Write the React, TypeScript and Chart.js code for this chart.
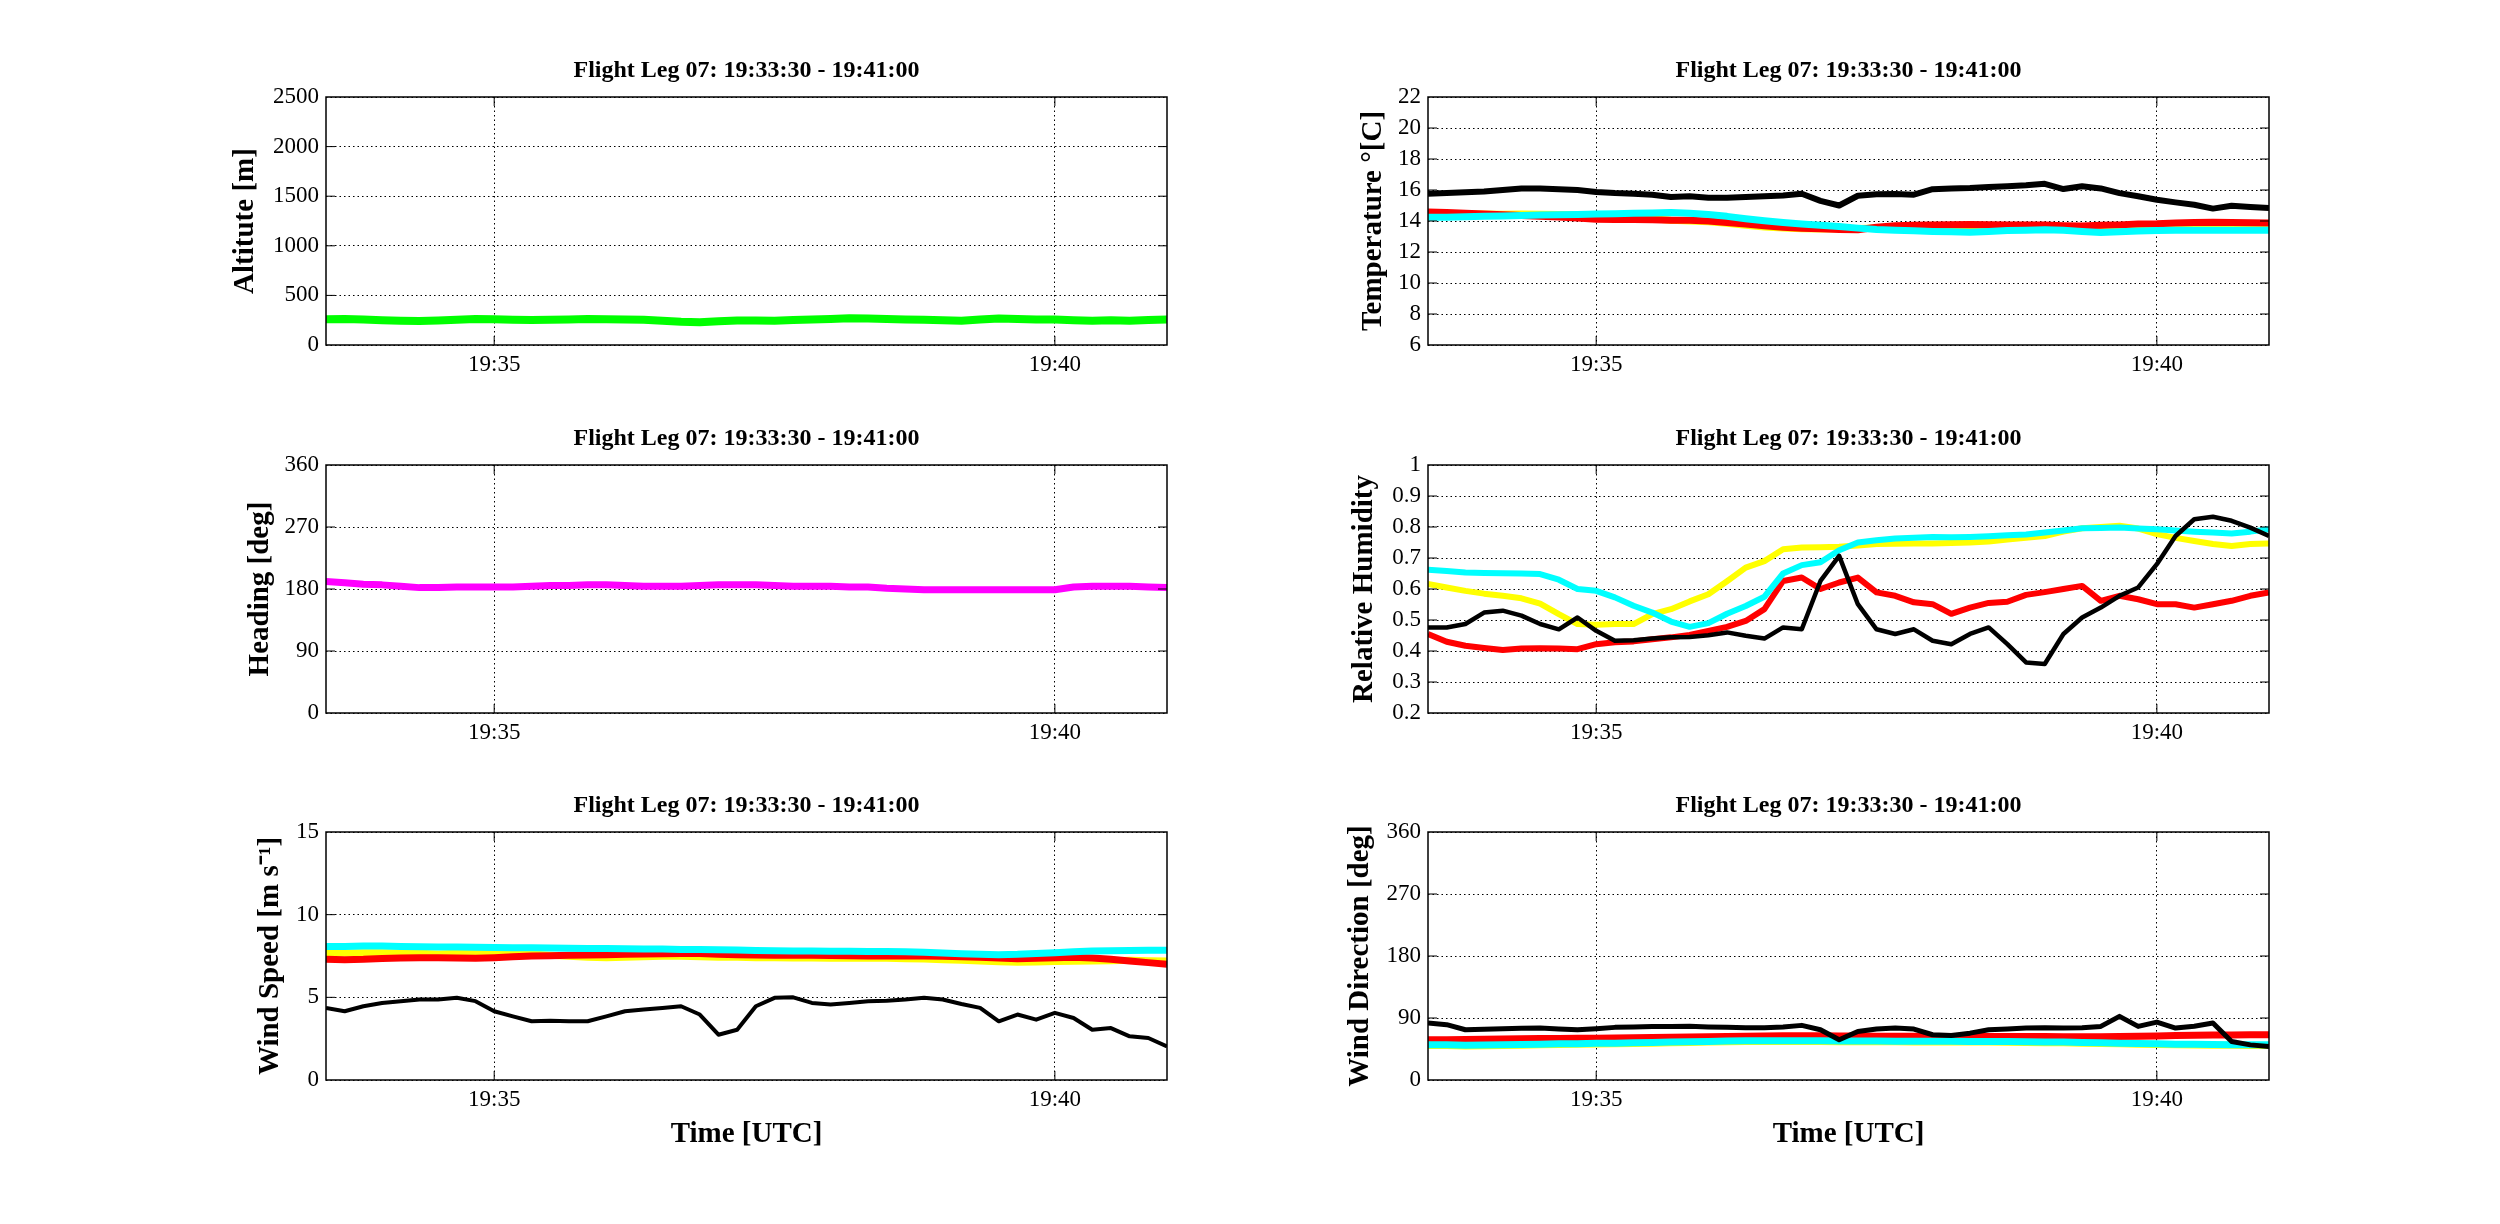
import { useEffect, useRef } from "react";
import Chart from "chart.js/auto";

const FONT = "'Liberation Serif', 'Times New Roman', serif";
const TITLE = "Flight Leg 07: 19:33:30 - 19:41:00";

// seconds after 19:33:30
const TIME_S = [
  0, 10, 20, 30, 40, 50, 60, 70, 80, 90, 100, 110, 120, 130, 140, 150, 160, 170, 180, 190, 200, 210, 220,
  230, 240, 250, 260, 270, 280, 290, 300, 310, 320, 330, 340, 350, 360, 370, 380, 390, 400, 410, 420, 430,
  440, 450,
];
const TIME_TICKS = [90, 390];
const TIME_TICK_LABELS = ["19:35", "19:40"];

const ALTITUDE = [
  260, 262, 258, 250, 245, 242, 248, 255, 262, 260, 255, 252, 254, 258, 262, 260, 258, 255, 245, 235, 230,
  240, 248, 246, 245, 252, 258, 262, 270, 268, 262, 258, 255, 250, 245, 258, 268, 262, 258, 256, 250, 245,
  250, 245, 252, 258,
];
const HEADING = [
  191, 189, 187, 186, 184, 182, 182, 183, 183, 183, 183, 184, 185, 185, 186, 186, 185, 184, 184, 184, 185,
  186, 186, 186, 185, 184, 184, 184, 183, 183, 181, 180, 179, 179, 179, 179, 179, 179, 179, 179, 183, 184,
  184, 184, 183, 182,
];

const TEMP_BLACK = [
  15.76, 15.8, 15.85, 15.9, 16.0, 16.1, 16.1, 16.05, 16.0, 15.87, 15.8, 15.76, 15.7, 15.55, 15.6, 15.5, 15.5,
  15.55, 15.6, 15.65, 15.76, 15.3, 15.0, 15.63, 15.72, 15.74, 15.7, 16.05, 16.1, 16.13, 16.2, 16.24, 16.3,
  16.4, 16.06, 16.24, 16.1, 15.8, 15.6, 15.37, 15.2, 15.05, 14.8, 14.98, 14.9, 14.84,
];
const TEMP_RED = [
  14.58, 14.55, 14.5, 14.45, 14.4, 14.35, 14.3, 14.25, 14.2, 14.12, 14.1, 14.1, 14.08, 14.05, 14.05, 14.0,
  13.9, 13.8, 13.7, 13.6, 13.54, 13.5, 13.45, 13.43, 13.6, 13.7, 13.72, 13.74, 13.76, 13.78, 13.76, 13.75,
  13.75, 13.74, 13.7, 13.68, 13.72, 13.75, 13.8, 13.82, 13.87, 13.9, 13.92, 13.9, 13.88, 13.87,
];
const TEMP_YELLOW = [
  14.5, 14.48, 14.46, 14.45, 14.44, 14.45, 14.44, 14.42, 14.4, 14.35, 14.3, 14.25, 14.15, 14.05, 14.0, 13.95,
  13.85, 13.72, 13.62, 13.55, 13.5, 13.48, 13.5, 13.52, 13.55, 13.6, 13.62, 13.64, 13.65, 13.66, 13.66, 13.66,
  13.66, 13.65, 13.64, 13.63, 13.64, 13.65, 13.66, 13.67, 13.68, 13.68, 13.68, 13.67, 13.66, 13.65,
];
const TEMP_CYAN = [
  14.25, 14.25, 14.27, 14.3, 14.32, 14.35, 14.38, 14.4, 14.42, 14.45, 14.47, 14.5, 14.52, 14.55, 14.5, 14.42,
  14.3, 14.15, 14.02, 13.9, 13.8, 13.72, 13.65, 13.54, 13.45, 13.4, 13.37, 13.33, 13.3, 13.28, 13.33, 13.38,
  13.4, 13.43, 13.4, 13.32, 13.26, 13.3, 13.35, 13.38, 13.4, 13.4, 13.4, 13.4, 13.4, 13.4,
];

const RH_BLACK = [
  0.476, 0.476, 0.487, 0.524, 0.53, 0.514, 0.487, 0.47, 0.508, 0.465, 0.433, 0.435, 0.44, 0.444, 0.445, 0.451,
  0.46, 0.449, 0.44, 0.476, 0.47, 0.626, 0.707, 0.551, 0.47, 0.455, 0.47, 0.433, 0.422, 0.455, 0.476, 0.422,
  0.363, 0.358, 0.455, 0.508, 0.54, 0.578, 0.605, 0.68, 0.771, 0.825, 0.833, 0.82, 0.798, 0.771,
];
const RH_CYAN = [
  0.662, 0.658, 0.653, 0.652, 0.651, 0.65, 0.648, 0.63, 0.6, 0.594, 0.573, 0.546, 0.524, 0.495, 0.478, 0.49,
  0.52, 0.545, 0.575, 0.65, 0.677, 0.686, 0.725, 0.75, 0.757, 0.763, 0.765, 0.768, 0.767, 0.768, 0.77, 0.773,
  0.776, 0.782, 0.789, 0.796, 0.797, 0.798, 0.795, 0.793, 0.789, 0.785, 0.782, 0.779, 0.785, 0.793,
];
const RH_RED = [
  0.455, 0.43, 0.417, 0.41, 0.403, 0.408, 0.409, 0.408, 0.406, 0.422, 0.428, 0.431, 0.438, 0.444, 0.452, 0.465,
  0.478, 0.497, 0.535, 0.626, 0.637, 0.6, 0.621, 0.637, 0.589, 0.578, 0.557, 0.551, 0.52, 0.54, 0.555, 0.559,
  0.581, 0.59, 0.6, 0.61, 0.562, 0.578, 0.567, 0.551, 0.551, 0.54, 0.551, 0.562, 0.578, 0.589,
];
const RH_YELLOW = [
  0.616, 0.605, 0.594, 0.585, 0.578, 0.57, 0.553, 0.519, 0.487, 0.485, 0.487, 0.487, 0.519, 0.535, 0.56, 0.583,
  0.625, 0.669, 0.69, 0.728, 0.734, 0.735, 0.736, 0.74, 0.745, 0.746, 0.747, 0.747, 0.748, 0.75, 0.753, 0.76,
  0.765, 0.771, 0.785, 0.796, 0.8, 0.804, 0.795, 0.777, 0.765, 0.755, 0.745, 0.739, 0.745, 0.747,
];

const WS_BLACK = [
  4.36, 4.16, 4.46, 4.66, 4.77, 4.87, 4.87, 4.97, 4.77, 4.16, 3.85, 3.55, 3.59, 3.55, 3.55, 3.85, 4.16, 4.26,
  4.36, 4.46, 3.96, 2.74, 3.04, 4.46, 4.97, 5.0, 4.66, 4.56, 4.66, 4.77, 4.8, 4.87, 4.97, 4.87, 4.6, 4.36,
  3.55, 3.96, 3.65, 4.06, 3.75, 3.04, 3.14, 2.64, 2.54, 2.03,
];
const WS_CYAN = [
  8.07, 8.08, 8.1, 8.1, 8.08, 8.06, 8.05, 8.04, 8.03, 8.02, 8.0, 8.0, 7.98, 7.97, 7.96, 7.95, 7.94, 7.93, 7.92,
  7.9, 7.9, 7.88, 7.86, 7.84, 7.82, 7.8, 7.8, 7.79, 7.78, 7.77, 7.77, 7.75, 7.72, 7.68, 7.64, 7.6, 7.58, 7.6,
  7.65, 7.7, 7.75, 7.8, 7.82, 7.84, 7.85, 7.85,
];
const WS_RED = [
  7.3, 7.28, 7.3, 7.35, 7.38, 7.4, 7.4, 7.38, 7.36, 7.4, 7.45, 7.5, 7.52, 7.55, 7.56, 7.58, 7.6, 7.62, 7.63,
  7.65, 7.65, 7.6, 7.58, 7.56, 7.55, 7.55, 7.54, 7.53, 7.52, 7.5, 7.5, 7.52, 7.5, 7.48, 7.46, 7.42, 7.38, 7.34,
  7.36, 7.4, 7.42, 7.38, 7.3, 7.2, 7.1, 7.0,
];
const WS_YELLOW = [
  7.67, 7.68, 7.7, 7.7, 7.68, 7.66, 7.62, 7.66, 7.7, 7.7, 7.7, 7.62, 7.55, 7.48, 7.42, 7.4, 7.42, 7.45, 7.48,
  7.48, 7.46, 7.42, 7.42, 7.4, 7.4, 7.38, 7.38, 7.37, 7.37, 7.36, 7.36, 7.34, 7.32, 7.28, 7.24, 7.2, 7.15,
  7.12, 7.14, 7.16, 7.18, 7.2, 7.22, 7.24, 7.22, 7.2,
];

const WD_BLACK = [
  82.7, 80.3, 73, 73.5, 74.4, 75, 75.4, 74, 73, 74.5, 76.4, 77, 77.8, 77.5, 78, 77, 76.5, 76, 76, 77, 79.3, 73,
  58.4, 70.5, 74, 75.4, 74, 65.7, 64.7, 68, 73, 74, 75.4, 76, 75.4, 76, 77.8, 92.4, 77.8, 84.1, 75.4, 78, 82.7,
  55.9, 51, 48.6,
];
const WD_CYAN = [
  51, 51, 50.5, 50.8, 51, 51.5, 52, 52.5, 52.8, 53.2, 53.5, 54, 54.5, 55, 55.5, 56, 56.5, 56.8, 57, 57, 56.9,
  56.8, 56.7, 56.6, 56.5, 56.4, 56.3, 56.2, 56.1, 56, 56, 55.8, 55.5, 55.2, 55, 54.5, 54, 53.5, 53, 52.5, 52,
  51.8, 51.5, 51.3, 51.1, 51,
];
const WD_RED = [
  58.4, 58.6, 58.8, 59.2, 59.6, 60, 60.2, 60.4, 60.6, 60.7, 60.8, 61.2, 61.6, 62, 62.4, 62.8, 63.2, 63.6, 64,
  64.2, 64.2, 64.2, 64, 63.8, 63.6, 63.5, 63.4, 63.3, 63.2, 63.2, 63.2, 63.1, 63, 63, 62.8, 62.8, 62.8, 63,
  63.5, 64, 64.7, 65, 65.3, 65.5, 65.6, 65.7,
];
const WD_YELLOW = [
  50, 50, 49.5, 49.8, 50, 50.5, 51, 51.5, 51.8, 52.2, 52.5, 53, 53.5, 54, 54.5, 55, 55.5, 55.8, 56, 56, 55.9,
  55.8, 55.7, 55.6, 55.5, 55.4, 55.3, 55.2, 55.1, 55, 55, 54.8, 54.5, 54.2, 54, 53.5, 53, 52.5, 52, 51.5, 51,
  50.8, 50.5, 50.3, 50.1, 50,
];

const PLOT_W = 841;
const PLOT_H = 248;
const Y_AXIS_W = 140;
const TITLE_H = 70;
const RIGHT_M = 30;

interface Series {
  values: number[];
  color: string;
  width: number;
}
interface PanelSpec {
  left: number;
  top: number;
  yLabel: string;
  yMin: number;
  yMax: number;
  yStep: number;
  labelGap: number;
  xLabel: boolean;
  series: Series[];
}

const PANELS: PanelSpec[] = [
  {
    left: 326, top: 97, yLabel: "Altitute [m]", yMin: 0, yMax: 2500, yStep: 500, labelGap: 80, xLabel: false,
    series: [{ values: ALTITUDE, color: "#00ff00", width: 8 }],
  },
  {
    left: 1428, top: 97, yLabel: "Temperature °[C]", yMin: 6, yMax: 22, yStep: 2, labelGap: 54, xLabel: false,
    series: [
      { values: TEMP_BLACK, color: "#000000", width: 6 },
      { values: TEMP_CYAN, color: "#00ffff", width: 7 },
      { values: TEMP_RED, color: "#ff0000", width: 7 },
      { values: TEMP_YELLOW, color: "#ffff00", width: 7 },
    ],
  },
  {
    left: 326, top: 464.5, yLabel: "Heading [deg]", yMin: 0, yMax: 360, yStep: 90, labelGap: 65, xLabel: false,
    series: [{ values: HEADING, color: "#ff00ff", width: 7 }],
  },
  {
    left: 1428, top: 464.5, yLabel: "Relative Humidity", yMin: 0.2, yMax: 1, yStep: 0.1, labelGap: 63, xLabel: false,
    series: [
      { values: RH_BLACK, color: "#000000", width: 4.5 },
      { values: RH_CYAN, color: "#00ffff", width: 6 },
      { values: RH_RED, color: "#ff0000", width: 6 },
      { values: RH_YELLOW, color: "#ffff00", width: 6 },
    ],
  },
  {
    left: 326, top: 832, yLabel: "Wind Speed [m s⁻¹]", yMin: 0, yMax: 15, yStep: 5, labelGap: 55, xLabel: true,
    series: [
      { values: WS_BLACK, color: "#000000", width: 4 },
      { values: WS_CYAN, color: "#00ffff", width: 7 },
      { values: WS_RED, color: "#ff0000", width: 7 },
      { values: WS_YELLOW, color: "#ffff00", width: 7 },
    ],
  },
  {
    left: 1428, top: 832, yLabel: "Wind Direction [deg]", yMin: 0, yMax: 360, yStep: 90, labelGap: 67, xLabel: true,
    series: [
      { values: WD_BLACK, color: "#000000", width: 5 },
      { values: WD_CYAN, color: "#00ffff", width: 7 },
      { values: WD_RED, color: "#ff0000", width: 7 },
      { values: WD_YELLOW, color: "#ffff00", width: 7 },
    ],
  },
];

// box round the plot and short inward tick marks, as MATLAB draws them
const framePlugin = {
  id: "frame",
  afterDraw(chart: any) {
    const { ctx, chartArea: a, scales } = chart;
    const len = 9;
    ctx.save();
    ctx.strokeStyle = "#000";
    ctx.lineWidth = 1;
    ctx.beginPath();
    for (const t of scales.y.ticks) {
      const y = scales.y.getPixelForValue(t.value);
      if (Math.abs(y - a.top) < 1 || Math.abs(y - a.bottom) < 1) continue;
      ctx.moveTo(a.left, y);
      ctx.lineTo(a.left + len, y);
      ctx.moveTo(a.right, y);
      ctx.lineTo(a.right - len, y);
    }
    for (const t of scales.x.ticks) {
      const x = scales.x.getPixelForValue(t.value);
      ctx.moveTo(x, a.bottom);
      ctx.lineTo(x, a.bottom - len);
      ctx.moveTo(x, a.top);
      ctx.lineTo(x, a.top + len);
    }
    ctx.stroke();
    ctx.lineWidth = 1.5;
    ctx.strokeRect(a.left, a.top, a.right - a.left, a.bottom - a.top);
    ctx.restore();
  },
};

function Panel({ spec }: { spec: PanelSpec }) {
  const ref = useRef<HTMLCanvasElement>(null);
  const xh = spec.xLabel ? 95 : 50;
  const w = Y_AXIS_W + PLOT_W + RIGHT_M;
  const h = TITLE_H + PLOT_H + xh;

  useEffect(() => {
    if (!ref.current) return;
    const chart = new Chart(ref.current, {
      type: "line",
      data: {
        datasets: spec.series.map((s) => ({
          data: s.values.map((v, i) => ({ x: TIME_S[i], y: v })),
          borderColor: s.color,
          borderWidth: s.width,
          pointRadius: 0,
          tension: 0,
          fill: false,
          borderJoinStyle: "round" as const,
        })),
      },
      options: {
        animation: false,
        responsive: false,
        events: [],
        layout: { padding: { left: 0, top: 0, bottom: 0, right: RIGHT_M } },
        plugins: {
          legend: { display: false },
          tooltip: { enabled: false },
          title: {
            display: true,
            text: TITLE,
            fullSize: false,
            color: "#000",
            font: { family: FONT, size: 24, weight: "bold" },
            padding: { top: 29, bottom: 12.2 },
          },
        },
        scales: {
          x: {
            type: "linear",
            min: 0,
            max: 450,
            afterBuildTicks: (ax: any) => {
              ax.ticks = TIME_TICKS.map((v) => ({ value: v }));
            },
            afterFit: (ax: any) => {
              ax.height = xh;
            },
            ticks: {
              autoSkip: false,
              maxRotation: 0,
              padding: 6,
              color: "#000",
              font: { family: FONT, size: 23 },
              callback: (v: any) => TIME_TICK_LABELS[TIME_TICKS.indexOf(Number(v))] ?? "",
            },
            grid: { color: "#000", lineWidth: 1, drawTicks: false },
            border: { display: false, dash: [1.5, 3] },
            title: {
              display: spec.xLabel,
              text: "Time [UTC]",
              color: "#000",
              font: { family: FONT, size: 29, weight: "bold" },
              padding: { top: 0, bottom: 22.6 },
            },
          },
          y: {
            min: spec.yMin,
            max: spec.yMax,
            afterFit: (ax: any) => {
              ax.width = Y_AXIS_W;
            },
            ticks: {
              stepSize: spec.yStep,
              padding: 7,
              color: "#000",
              font: { family: FONT, size: 23 },
              callback: (v: any) => String(+Number(v).toFixed(2)),
            },
            grid: { color: "#000", lineWidth: 1, drawTicks: false },
            border: { display: false, dash: [1.5, 3] },
            title: {
              display: true,
              text: spec.yLabel,
              color: "#000",
              font: { family: FONT, size: 29, weight: "bold" },
              padding: { top: Y_AXIS_W - spec.labelGap - 17.4, bottom: 0 },
            },
          },
        },
      },
      plugins: [framePlugin],
    });
    return () => chart.destroy();
  }, []);

  return (
    <canvas
      ref={ref}
      width={w}
      height={h}
      style={{
        position: "absolute",
        left: spec.left - Y_AXIS_W,
        top: spec.top - TITLE_H,
        width: w,
        height: h,
      }}
    />
  );
}

export default function App() {
  useEffect(() => {
    document.body.style.margin = "0";
    document.body.style.background = "#fff";
  }, []);
  return (
    <div style={{ position: "relative", width: 2500, height: 1224, background: "#fff", overflow: "hidden" }}>
      {PANELS.map((p, i) => (
        <Panel key={i} spec={p} />
      ))}
    </div>
  );
}
